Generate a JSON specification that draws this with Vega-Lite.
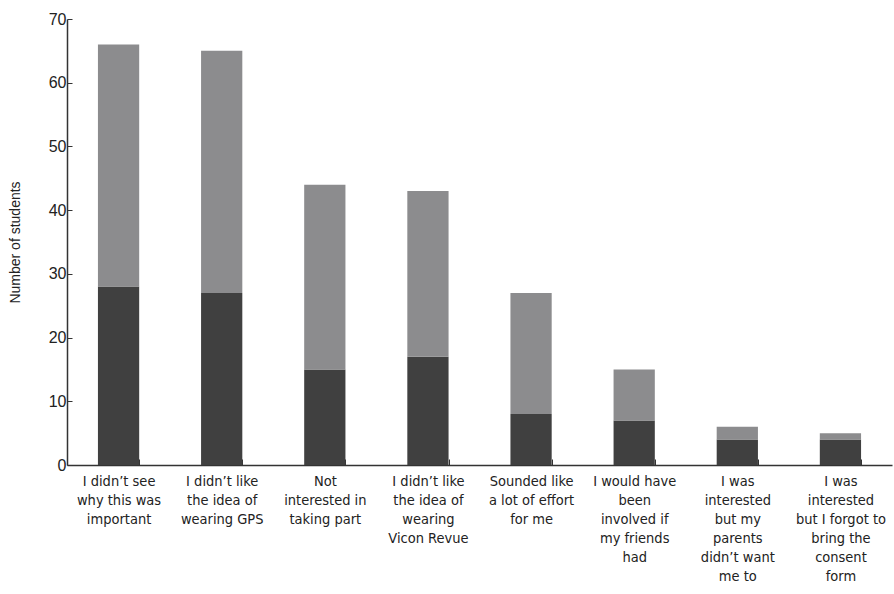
{
  "$schema": "https://vega.github.io/schema/vega-lite/v6.json",
  "width": 825,
  "height": 446,
  "autosize": {"type": "none"},
  "padding": {"left": 67, "top": 19, "right": 2, "bottom": 129},
  "background": "white",
  "config": {"view": {"stroke": null}},
  "data": {"values": [
    {"reason": "I didn’t see|why this was|important", "group": "a", "n": 28},
    {"reason": "I didn’t see|why this was|important", "group": "b", "n": 38},
    {"reason": "I didn’t like|the idea of|wearing GPS", "group": "a", "n": 27},
    {"reason": "I didn’t like|the idea of|wearing GPS", "group": "b", "n": 38},
    {"reason": "Not|interested in|taking part", "group": "a", "n": 15},
    {"reason": "Not|interested in|taking part", "group": "b", "n": 29},
    {"reason": "I didn’t like|the idea of|wearing|Vicon Revue", "group": "a", "n": 17},
    {"reason": "I didn’t like|the idea of|wearing|Vicon Revue", "group": "b", "n": 26},
    {"reason": "Sounded like|a lot of effort|for me", "group": "a", "n": 8},
    {"reason": "Sounded like|a lot of effort|for me", "group": "b", "n": 19},
    {"reason": "I would have|been|involved if|my friends|had", "group": "a", "n": 7},
    {"reason": "I would have|been|involved if|my friends|had", "group": "b", "n": 8},
    {"reason": "I was|interested|but my|parents|didn’t want|me to", "group": "a", "n": 4},
    {"reason": "I was|interested|but my|parents|didn’t want|me to", "group": "b", "n": 2},
    {"reason": "I was|interested|but I forgot to|bring the|consent|form", "group": "a", "n": 4},
    {"reason": "I was|interested|but I forgot to|bring the|consent|form", "group": "b", "n": 1}
  ]},
  "mark": {"type": "bar"},
  "encoding": {
    "x": {
      "field": "reason", "type": "nominal", "sort": null,
      "scale": {"paddingInner": 0.6, "paddingOuter": 0.3},
      "axis": {
        "title": null,
        "labelAngle": 0,
        "labelExpr": "datum.value ? split(datum.value, '|') : ''",
        "labelFont": "DejaVu Sans Condensed, Liberation Sans",
        "labelFontSize": 14.5,
        "labelLineHeight": 19,
        "labelColor": "#222",
        "labelPadding": 15,
        "tickBand": "extent",
        "tickSize": -6,
        "tickColor": "#333",
        "domainColor": "#333",
        "domainWidth": 1.5,
        "labelLimit": 0
      }
    },
    "y": {
      "field": "n", "type": "quantitative", "stack": "zero",
      "scale": {"domain": [0, 70]},
      "axis": {
        "title": "Number of students",
        "titleFont": "Liberation Sans",
        "titleFontWeight": "normal",
        "titleFontSize": 14,
        "titleColor": "#222",
        "titlePadding": 26,
        "values": [0, 10, 20, 30, 40, 50, 60, 70],
        "grid": false,
        "labelFont": "Liberation Sans",
        "labelFontSize": 16,
        "labelColor": "#222",
        "labelPadding": 6,
        "tickSize": -5,
        "tickColor": "#333",
        "domainColor": "#333",
        "domainWidth": 1.5
      }
    },
    "color": {
      "field": "group", "type": "nominal",
      "scale": {"domain": ["a", "b"], "range": ["#404040", "#8c8c8e"]},
      "legend": null
    },
    "order": {"field": "group"}
  }
}
